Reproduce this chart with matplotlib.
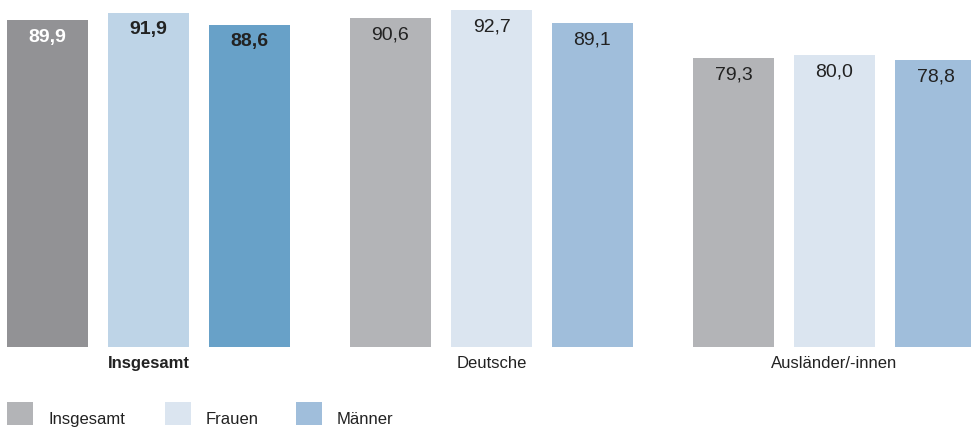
'''
Grouped bars: Insgesamt / Deutsche / Ausländer/-innen, split by sex
'''
import matplotlib
matplotlib.use('Agg')
import matplotlib.pyplot as plt
from matplotlib.patches import Rectangle

groups = ['Insgesamt', 'Deutsche', 'Ausländer/-innen']
series = ['Insgesamt', 'Frauen', 'Männer']
insgesamt = [89.9, 90.6, 79.3]
frauen = [91.9, 92.7, 80.0]
maenner = [88.6, 89.1, 78.8]
labels = [['89,9', '90,6', '79,3'],
          ['91,9', '92,7', '80,0'],
          ['88,6', '89,1', '78,8']]

plt.rcParams['font.family'] = ['Liberation Sans', 'DejaVu Sans']

W, H = 971, 428
fig = plt.figure(figsize=(W / 100, H / 100), dpi=100)
ax = fig.add_axes([0, 0, 1, 1])
ax.set_xlim(0, W)
ax.set_ylim(-24.05, 95.5)
ax.axis('off')

# colours: first group highlighted, the others lighter
dark = ['#929295', '#bed4e7', '#68a1c8']
light = ['#b3b4b7', '#dbe5f0', '#a0bedb']
txt = '#222222'

base = -1.3
gstep, bstep, width, x0 = 343, 101, 81, 47.5
values = [insgesamt, frauen, maenner]

for j, vals in enumerate(values):
    for i, v in enumerate(vals):
        x = x0 + i * gstep + j * bstep
        col = dark[j] if i == 0 else light[j]
        ax.bar(x, v - base, bottom=base, width=width, color=col, lw=0)
        if i == 0:
            tc = 'white' if j == 0 else txt
            fw = 'bold'
        else:
            tc, fw = txt, 'normal'
        ax.annotate(labels[j][i], xy=(x, v), xytext=(0, -17),
                    textcoords='offset pixels', ha='center', va='center',
                    fontsize=14, color=tc, fontweight=fw)

for i, g in enumerate(groups):
    x = x0 + i * gstep + bstep
    fig.text(x / W, 1 - 363.5 / H, g, ha='center', va='center', fontsize=12,
             color=txt, fontweight='bold' if i == 0 else 'normal')

# legend drawn by hand
leg_x = [7, 165, 296]
for k, s in enumerate(series):
    fig.patches.append(Rectangle((leg_x[k] / W, 1 - 425 / H), 26 / W, 23 / H,
                                 transform=fig.transFigure, color=light[k], lw=0))
    fig.text((leg_x[k] + 41) / W, 1 - 424 / H, s, ha='left', va='baseline',
             fontsize=12, color=txt)

plt.savefig('out.png', dpi=100)
plt.close()
